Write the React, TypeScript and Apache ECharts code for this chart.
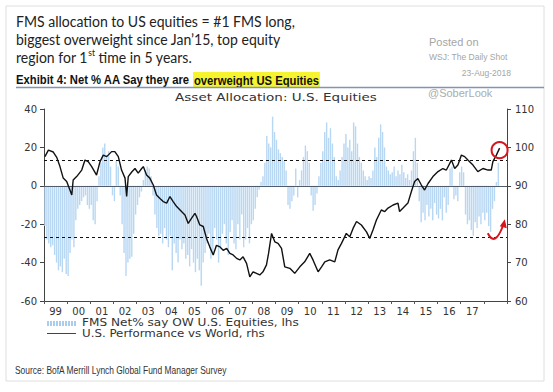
import React, { useEffect, useRef } from "react";
import * as echarts from "echarts";

// Monthly FMS net % saying overweight U.S. equities (Jan 1999 – Aug 2018), lhs
const startYear = 1999;
const fmsNetOW: number[] = [
  // 1999
  -21, -28, -30, -32, -31, -36, -40, -44, -42, -45, -38, -46,
  // 2000
  -47, -35, -28, -32, -18, -12, -10, -8, -6, -5, -10, -12,
  // 2001
  -10, -18, -20, -8, 5, 12, 20, 22, 16, 18, 10, -5,
  // 2002
  -8, 13, 10, -5, -20, -35, -47, -40, -38, -37, -25, -15,
  // 2003
  -10, -6, -3, 3, 8, 10, 9, 5, -5, -15, -22, -26,
  // 2004
  -25, -30, -22, -28, -32, -26, -44, -30, -35, -40, -28, -33,
  // 2005
  -30, -38, -36, -42, -33, -40, -45, -38, -44, -52, -40, -35,
  // 2006
  -30, -25, -38, -35, -22, -28, -40, -33, -25, -20, -30, -36,
  // 2007
  -24, -18, -30, -33, -20, -28, -15, -32, -28, -22, -30, -20,
  // 2008
  -18, -12, -6, -2, 2, 5, 12, 26, 22, 20, 36, 28,
  // 2009
  24, 19, 17, 15, 13, 8, -10, -12, -8, -5, 9, -6,
  // 2010
  3, 8, 15, 21, 18, 12, -5, -13, -10, -4, 5, 12,
  // 2011
  18, 28, 33, 25, 30, 22, 15, 5, 3, 8, 15, 22,
  // 2012
  27, 20, 24, 18, 33, 31, 22, 15, 12, 8, 5, 3,
  // 2013
  5, 4, 8, 20, 15, 25, 32, 28, 20, 10, 8, 6,
  // 2014
  7, 10, 5, 8, 6, 11, 7, 4, 6, 3, 8, 18,
  // 2015
  25, 12, -8, -19, -14, -18, -10, -16, -12, -18, -9, -15,
  // 2016
  -17, -12, -18, -6, -14, -10, 9, 10, -7, -5, -8, 7,
  // 2017
  10, 7, -15, -20, -18, -23, -26, -19, -22, -16, -20, -14,
  // 2018
  -18, -14, -21, -24, -12, -8, 2, 12,
];

// U.S. performance vs World (rhs), dates as decimal years
const perfDates: number[] = [
  1999.04, 1999.19, 1999.4, 1999.55, 1999.69, 1999.83, 1999.98, 2000.12, 2000.2, 2000.26,
  2000.41, 2000.63, 2000.77, 2000.91, 2001.06, 2001.27, 2001.42, 2001.56, 2001.71, 2001.92,
  2002.06, 2002.21, 2002.35, 2002.5, 2002.57, 2002.64, 2002.79, 2002.93, 2003.07, 2003.22,
  2003.29, 2003.43, 2003.57, 2003.72, 2003.86, 2004.01, 2004.15, 2004.3, 2004.44, 2004.58,
  2004.73, 2004.94, 2005.09, 2005.23, 2005.37, 2005.52, 2005.59, 2005.73, 2005.88, 2006.02,
  2006.16, 2006.31, 2006.45, 2006.6, 2006.74, 2006.89, 2007.03, 2007.17, 2007.32, 2007.46,
  2007.6, 2007.75, 2007.89, 2008.03, 2008.18, 2008.32, 2008.46, 2008.61, 2008.7, 2008.83,
  2008.97, 2009.11, 2009.26, 2009.4, 2009.62, 2009.83, 2010.05, 2010.26, 2010.48, 2010.62,
  2010.84, 2010.99, 2011.13, 2011.34, 2011.56, 2011.7, 2011.85, 2012.06, 2012.21, 2012.35,
  2012.5, 2012.71, 2012.93, 2013.07, 2013.21, 2013.36, 2013.57, 2013.72, 2013.86, 2014.08,
  2014.29, 2014.36, 2014.51, 2014.72, 2014.87, 2015.01, 2015.15, 2015.3, 2015.44, 2015.59,
  2015.8, 2016.02, 2016.23, 2016.38, 2016.6, 2016.74, 2016.88, 2017.03, 2017.17, 2017.31,
  2017.53, 2017.74, 2017.96, 2018.18, 2018.32, 2018.39, 2018.54, 2018.68,
];
const perfValues: number[] = [
  97.6, 99.3, 98.8, 97.4, 95.0, 92.0, 91.1, 88.9, 87.6, 91.5,
  92.4, 94.1, 96.7, 96.3, 95.0, 92.8, 96.3, 98.0, 97.6, 98.9,
  98.9, 97.6, 94.1, 92.0, 87.2, 92.4, 93.6, 94.5, 93.3, 94.5,
  95.0, 92.8, 92.0, 90.2, 87.6, 86.7, 85.9, 85.5, 87.2, 85.9,
  84.6, 83.3, 82.4, 80.2, 81.5, 82.8, 82.0, 79.8, 79.4, 76.3,
  74.1, 72.0, 74.5, 74.1, 73.2, 73.7, 72.4, 72.0, 71.1, 70.7,
  71.5, 69.8, 66.3, 67.6, 67.2, 66.8, 67.6, 69.4, 72.4, 77.6,
  75.4, 75.0, 73.7, 68.9, 68.5, 67.2, 68.9, 70.2, 72.4, 70.7,
  67.6, 68.9, 70.2, 70.7, 70.2, 73.3, 75.0, 77.6, 76.7, 78.9,
  80.7, 79.8, 78.0, 76.3, 78.5, 81.1, 83.7, 83.3, 84.2, 85.0,
  85.5, 83.3, 84.2, 85.5, 88.5, 91.1, 91.9, 90.2, 88.9, 90.6,
  92.4, 93.7, 94.5, 94.1, 96.7, 94.5, 95.4, 98.0, 97.6, 96.7,
  95.4, 93.7, 94.5, 94.1, 94.1, 96.3, 98.0, 99.8,
];

const upperBand = 13.3;
const lowerBand = -26.8;
const yearTicks: number[] = [1999, 2000, 2001, 2002, 2003, 2004, 2005, 2006, 2007, 2008, 2009, 2010, 2011, 2012, 2013, 2014, 2015, 2016, 2017, 2018, 2019];
const yearLabelPos: number[] = [1999.5, 2000.5, 2001.5, 2002.5, 2003.5, 2004.5, 2005.5, 2006.5, 2007.5, 2008.5, 2009.5, 2010.5, 2011.5, 2012.5, 2013.5, 2014.5, 2015.5, 2016.5, 2017.5];

const headingLine1 = "FMS allocation to US equities = #1 FMS long,";
const headingLine2 = "biggest overweight since Jan\u201915, top equity";
const headingLine3a = "region for 1";
const headingLine3sup = "st";
const headingLine3b = " time in 5 years.";
const exhibitPlain = "Exhibit 4: Net % AA Say they are ";
const exhibitHighlight = "overweight US Equities";
const chartTitle = "Asset Allocation: U.S. Equities";
const legendBars = "FMS Net% say OW U.S. Equities, lhs";
const legendLine = "U.S. Performance vs World, rhs";
const sourceText = "Source: BofA Merrill Lynch Global Fund Manager Survey";

const AXIS_FONT = "DejaVu Sans";

let measureCtx: CanvasRenderingContext2D | null = null;
function textWidth(text: string, font: string): number {
  if (!measureCtx) measureCtx = document.createElement("canvas").getContext("2d");
  if (!measureCtx) return text.length * 6;
  measureCtx.font = font;
  return measureCtx.measureText(text).width;
}

export default function App() {
  const ref = useRef<HTMLDivElement>(null);
  useEffect(() => {
    if (!ref.current) return;
    const chart = echarts.init(ref.current, null, { renderer: "svg" });
    const barData = fmsNetOW.map((v, i) => [startYear + (i + 0.5) / 12, v]);
    const lineData = perfDates.map((d, i) => [d, perfValues[i]]);

    const axisLabelStyle = { color: "#333", fontFamily: AXIS_FONT, fontSize: 10 };

    // heading (Calibri-like): fit line 1 to its width in the reference
    const hFont = "15px Lato";
    const hScale = 279 / textWidth(headingLine1, hFont);
    const w3a = textWidth(headingLine3a, hFont) * hScale;
    const w3s = textWidth(headingLine3sup, "9px Lato") * hScale;

    const exFont = 'bold 13px "Liberation Sans"';
    const exScale = 302 / textWidth(exhibitPlain + exhibitHighlight, exFont);
    const srcFont = '10.5px "Liberation Sans"';
    const srcScale = 212 / textWidth(sourceText, srcFont);
    const lgFont = "10px DejaVu Sans";
    const lgScale1 = 217 / textWidth(legendBars, lgFont);
    const lgScale2 = 183 / textWidth(legendLine, lgFont);
    const ttlFont = "11px DejaVu Sans";
    const ttlScale = 202 / textWidth(chartTitle, ttlFont);

    const stripes: any[] = [];
    for (let i = 0; i < 10; i++) {
      stripes.push({
        type: "rect",
        shape: { x: 47 + i * 3, y: 321, width: 2, height: 5 },
        style: { fill: "#a9cdee" },
        silent: true,
      });
    }

    const mid = { verticalAlign: "middle", textVerticalAlign: "middle" };
    const hText = (text: string, x: number, y: number, size = 15) => ({
      type: "text",
      x,
      y,
      scaleX: hScale,
      style: { text, fill: "#222", fontFamily: "Lato", fontSize: size, ...mid },
      silent: true,
    });

    const baseGraphic: any[] = [
      {
        type: "rect",
        shape: { x: 6, y: 6, width: 538, height: 375 },
        style: { fill: "none", stroke: "#dedede", lineWidth: 1 },
        silent: true,
        z: -10,
      },
      hText(headingLine1, 16, 21),
      hText(headingLine2, 16, 39),
      hText(headingLine3a, 16, 57),
      hText(headingLine3sup, 16 + w3a + 0.5, 52, 9),
      hText(headingLine3b, 16 + w3a + w3s + 0.5, 57),
      {
        type: "text",
        x: 16,
        y: 80,
        scaleX: exScale,
        style: {
          text: "{n|" + exhibitPlain + "}{h|" + exhibitHighlight + "}",
          ...mid,
          rich: {
            n: { color: "#111", fill: "#111", fontFamily: "Liberation Sans", fontWeight: "bold", fontSize: 13 },
            h: {
              color: "#111",
              fill: "#111",
              fontFamily: "Liberation Sans",
              fontWeight: "bold",
              fontSize: 13,
              backgroundColor: "#f6f42e",
              padding: [2, 1, 1, 1],
            },
          },
        },
        silent: true,
      },
      {
        type: "line",
        shape: { x1: 16, y1: 87.5, x2: 544, y2: 87.5 },
        style: { stroke: "#8194b3", lineWidth: 1.5 },
        silent: true,
      },
      {
        type: "text",
        x: 429,
        y: 42,
        style: { text: "Posted on", fill: "#a5a5a5", fontFamily: "Liberation Sans", fontSize: 11, ...mid },
        silent: true,
      },
      {
        type: "text",
        x: 429,
        y: 57,
        style: { text: "WSJ: The Daily Shot", fill: "#a5a5a5", fontFamily: "Liberation Sans", fontSize: 8.5, ...mid },
        silent: true,
      },
      {
        type: "text",
        x: 511,
        y: 73,
        style: {
          text: "23-Aug-2018",
          fill: "#a5a5a5",
          fontFamily: "Liberation Sans",
          fontSize: 8.5,
          align: "right",
          textAlign: "right",
          ...mid,
        },
        silent: true,
      },
      {
        type: "text",
        x: 428,
        y: 93,
        style: { text: "@SoberLook", fill: "#acacac", fontFamily: "Liberation Sans", fontSize: 11, ...mid },
        silent: true,
      },
      {
        type: "text",
        x: 276,
        y: 97,
        scaleX: ttlScale,
        style: {
          text: chartTitle,
          fill: "#333",
          fontFamily: AXIS_FONT,
          fontSize: 11,
          align: "center",
          textAlign: "center",
          ...mid,
        },
        silent: true,
      },
      ...stripes,
      {
        type: "text",
        x: 82,
        y: 323,
        scaleX: lgScale1,
        style: { text: legendBars, fill: "#333", fontFamily: AXIS_FONT, fontSize: 10, lineHeight: 10, ...mid },
        silent: true,
      },
      {
        type: "line",
        shape: { x1: 47, y1: 333.5, x2: 76, y2: 333.5 },
        style: { stroke: "#444", lineWidth: 1 },
        silent: true,
      },
      {
        type: "text",
        x: 82,
        y: 333.5,
        scaleX: lgScale2,
        style: { text: legendLine, fill: "#333", fontFamily: AXIS_FONT, fontSize: 10, lineHeight: 10, ...mid },
        silent: true,
      },
      {
        type: "text",
        x: 15,
        y: 370,
        scaleX: srcScale,
        style: { text: sourceText, fill: "#333", fontFamily: "Liberation Sans", fontSize: 10.5, ...mid },
        silent: true,
      },
    ];

    const option: any = {
      animation: false,
      backgroundColor: "#fff",
      grid: { left: 44, right: 46, top: 109, bottom: 91, containLabel: false },
      xAxis: {
        type: "value",
        min: 1999,
        max: 2019,
        axisLine: { show: true, onZero: false, lineStyle: { color: "#444", width: 1 } },
        axisTick: { show: true, customValues: yearTicks, length: 3, lineStyle: { color: "#555" } },
        axisLabel: {
          customValues: yearLabelPos,
          formatter: (v: number) => String(Math.floor(v) % 100).padStart(2, "0"),
          margin: 5,
          ...axisLabelStyle,
        },
        splitLine: { show: false },
      },
      yAxis: [
        {
          type: "value",
          position: "left",
          min: -60,
          max: 40,
          interval: 20,
          axisLine: { show: true, lineStyle: { color: "#444" } },
          axisTick: { show: true, length: 4, lineStyle: { color: "#444" } },
          axisLabel: { margin: 7, ...axisLabelStyle },
          splitLine: { show: false },
        },
        {
          type: "value",
          position: "right",
          min: 60,
          max: 110,
          interval: 10,
          axisLine: { show: true, lineStyle: { color: "#444" } },
          axisTick: { show: true, length: 4, lineStyle: { color: "#444" } },
          axisLabel: { margin: 8, ...axisLabelStyle },
          splitLine: { show: false },
        },
      ],
      series: [
        {
          name: legendBars,
          type: "bar",
          data: barData,
          barWidth: 1.4,
          itemStyle: { color: "#b7d7f3" },
          markLine: {
            silent: true,
            symbol: "none",
            label: { show: false },
            data: [
              { yAxis: 0, lineStyle: { type: "solid", color: "#4f5c6e", width: 1 } },
              { yAxis: upperBand, lineStyle: { type: [3, 3], color: "#111", width: 1 } },
              { yAxis: lowerBand, lineStyle: { type: [3, 3], color: "#111", width: 1 } },
            ],
          },
        },
        {
          name: legendLine,
          type: "line",
          yAxisIndex: 1,
          data: lineData,
          showSymbol: false,
          symbol: "none",
          lineStyle: { color: "#111", width: 1.4 },
          z: 5,
        },
      ],
      graphic: baseGraphic,
    };
    chart.setOption(option);

    // Red annotations anchored to the last point of the performance line
    const lastPt = lineData[lineData.length - 1];
    const p = chart.convertToPixel({ seriesIndex: 1 }, lastPt as any) as number[];
    const q = chart.convertToPixel({ seriesIndex: 0 }, [2018.3, lowerBand]) as number[];
    if (p && q) {
      const cx = p[0];
      const cy = p[1] + 2;
      chart.setOption({
        graphic: [
          ...baseGraphic,
          {
            type: "circle",
            shape: { cx, cy, r: 8 },
            style: { fill: "none", stroke: "#d8141c", lineWidth: 2 },
            z: 100,
            silent: true,
          },
          {
            type: "bezierCurve",
            shape: { x1: q[0] - 3, y1: q[1] - 4, cpx1: q[0] + 4, cpy1: q[1] + 10, x2: q[0] + 12, y2: q[1] - 11 },
            style: { fill: "none", stroke: "#d8141c", lineWidth: 2 },
            z: 100,
            silent: true,
          },
          {
            type: "polygon",
            shape: { points: [[q[0] + 14, q[1] - 18], [q[0] + 9, q[1] - 11], [q[0] + 16, q[1] - 9]] },
            style: { fill: "#d8141c" },
            z: 100,
            silent: true,
          },
        ],
      });
    }

    return () => chart.dispose();
  }, []);

  return (
    <div
      ref={ref}
      style={{ position: "absolute", left: 0, top: 0, width: 553, height: 392, background: "#fff" }}
    />
  );
}
